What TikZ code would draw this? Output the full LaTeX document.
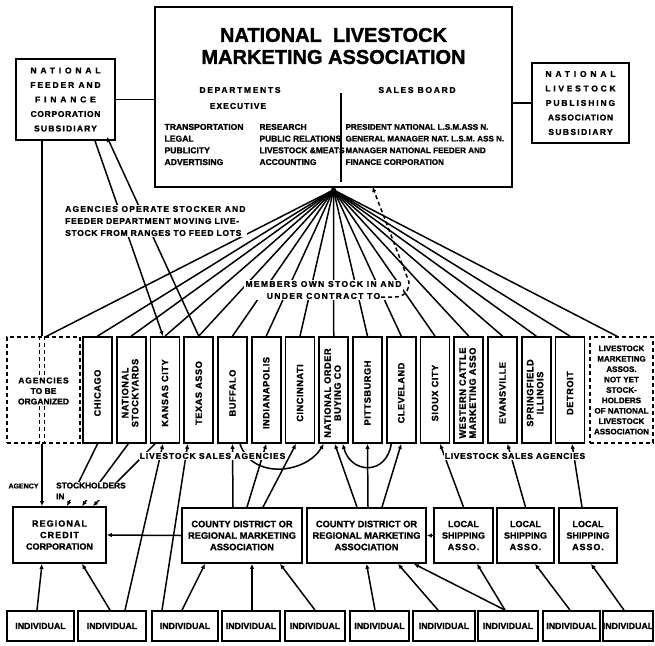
\documentclass[tikz,border=0pt]{standalone}
\usepackage{fontspec}
\setmainfont{Liberation Sans}[BoldFeatures={FakeBold=1.4}]
\usetikzlibrary{arrows.meta}

\protected\def\spc#1#2{{\addfontfeature{LetterSpace=#1}#2}}
\protected\def\two#1#2{\begin{tabular}{@{}c@{}}#1\\#2\end{tabular}}
\newcommand\fs[2]{\bfseries\fontsize{#1}{#2}\selectfont}

\begin{document}
\begin{tikzpicture}[x=1pt,y=-1pt,
    font=\fs{8.5}{11},
    box/.style={draw,line width=1.8pt,inner sep=0pt,align=center},
    dbox/.style={draw,dash pattern=on 4pt off 3pt,line width=1.5pt,inner sep=0pt,align=center},
    agtext/.style={inner sep=0pt,align=center,font=\fs{9.2}{10}},
    link/.style={line width=1.5pt},
    arr/.style={link,-{Latex[length=5pt,width=4.5pt]}},
    lbl/.style={fill=white,inner sep=1pt,align=center}]

  \useasboundingbox (0,0) rectangle (655,645);

  % association and subsidiaries
  \node[box,minimum width=357,minimum height=180] (main) at (333.5,97) {};
  \node[font=\fs{20}{22},align=center] (title) at (333.5,46)
    {NATIONAL\ \ LIVESTOCK\\MARKETING ASSOCIATION};
  \node (depts) at (240,90) {\spc{20}{DEPARTMENTS}};
  \node (exec) at (238,106) {\spc{12}{EXECUTIVE}};
  \node (sales) at (417,90) {\spc{20}{SALES BOARD}};
  \draw[line width=1.8pt] (341,93) -- (341,182);
  \node[anchor=west,align=left,font=\fs{8.6}{11.7}] (colA) at (161,144.5)
    {TRANSPORTATION\\LEGAL\\PUBLICITY\\ADVERTISING};
  \node[anchor=west,align=left,font=\fs{8.4}{11.7}] (colB) at (256,144.5)
    {RESEARCH\\PUBLIC RELATIONS\\LIVESTOCK \&MEATS\\ACCOUNTING};
  \node[anchor=west,align=left,font=\fs{8.1}{11.7}] (colC) at (342,144.5)
    {PRESIDENT NATIONAL L.S.M.ASS N.\\GENERAL MANAGER NAT. L.S.M. ASS N.\\MANAGER NATIONAL FEEDER AND\\FINANCE CORPORATION};

  \node[box,minimum width=99,minimum height=81,font=\fs{8.5}{14.5}] (feeder) at (65.5,99.5)
    {\spc{45}{NATIONAL}\\\spc{22}{FEEDER AND}\\\spc{45}{FINANCE}\\\spc{8}{CORPORATION}\\\spc{14}{SUBSIDIARY}};
  \node[box,minimum width=97,minimum height=80,font=\fs{8.5}{14.5}] (pub) at (580.5,103)
    {\spc{45}{NATIONAL}\\\spc{32}{LIVESTOCK}\\\spc{22}{PUBLISHING}\\\spc{8}{ASSOCIATION}\\\spc{16}{SUBSIDIARY}};
  \draw[link] (feeder.east) -- (feeder.east -| main.west);
  \draw[link] (pub.west -| main.east) -- (pub.west);

  % agencies
  \foreach \nm/\txt [count=\i] in {chicago/CHICAGO, yards/\two{NATIONAL}{STOCKYARDS},
      kansas/KANSAS CITY, texas/TEXAS ASSO, buffalo/BUFFALO, indy/INDIANAPOLIS,
      cincy/CINCINNATI, orderbuy/\two{NATIONAL ORDER}{BUYING CO}, pitts/PITTSBURGH,
      cleve/CLEVELAND, sioux/SIOUX CITY, western/\two{WESTERN CATTLE}{MARKETING ASSO},
      evans/EVANSVILLE, spring/\two{SPRINGFIELD}{ILLINOIS}, detroit/DETROIT} {
    \node[box,minimum width=29,minimum height=106] (\nm) at (63.75+33.75*\i,390) {};
    \node[agtext,rotate=90] (\nm-t) at ([yshift=-3pt]\nm.center) {\spc{6}{\txt}};
  }
  \node[dbox,minimum width=73,minimum height=106] (todo) at (43.5,390) {};
  \node[dbox,minimum width=63,minimum height=106,font=\fs{8}{10.4}] (notyet) at (621.5,390)
    {LIVESTOCK\\MARKETING\\ASSOS.\\NOT YET\\STOCK-\\HOLDERS\\OF NATIONAL\\LIVESTOCK\\ASSOCIATION};

  % lower boxes
  \node[box,minimum width=93,minimum height=56,font=\fs{9}{11.5}] (rc) at (59.5,535)
    {\spc{12}{REGIONAL}\\\spc{12}{CREDIT}\\CORPORATION};
  \node[box,minimum width=120,minimum height=55,font=\fs{9.3}{11.5}] (c1) at (242,535.5)
    {COUNTY DISTRICT OR\\REGIONAL MARKETING\\ASSOCIATION};
  \node[box,minimum width=119,minimum height=55,font=\fs{9.3}{11.5}] (c2) at (366.5,535.5)
    {COUNTY DISTRICT OR\\REGIONAL MARKETING\\ASSOCIATION};
  \foreach \nm/\cx/\w in {l1/463.5/59, l2/525.5/57, l3/588/58}
    \node[box,minimum width=\w,minimum height=55,font=\fs{9}{11.5}] (\nm) at (\cx,535.5)
      {LOCAL\\SHIPPING\\\spc{10}{ASSO.}};
  \foreach \cx/\w [count=\k] in {40.5/67, 112/68, 185/66, 251/58, 315/60,
      379.5/59, 444/62, 508/60, 571.5/57, 628/50}
    \node[box,minimum width=\w,minimum height=30,font=\fs{8.8}{10}] (ind\k) at (\cx,626) {INDIVIDUAL};

  % members own stock
  \coordinate (apex) at ([yshift=-2pt]main.south);
  \foreach \nm in {chicago,yards,kansas,texas,buffalo,indy,cincy,orderbuy,pitts,cleve,sioux,western,evans,spring,detroit}
    \draw[link] (apex) -- (\nm.north);
  \draw[link] (apex) -- ([xshift=3pt]todo.north);
  \draw[link] (apex) -- ([xshift=-4.5pt]notyet.north);
  \fill (apex) circle (2.5pt);

  % feeder corporation
  \draw[arr] ([xshift=29.5pt]feeder.south) -- ([xshift=-2pt]kansas.north);
  \draw[arr] (texas.north) -- ([xshift=41.5pt,yshift=4pt]feeder.south);
  \coordinate (fdrop) at ([xshift=-23.5pt]feeder.south);
  \coordinate (fin) at (fdrop |- todo.north);
  \coordinate (fout) at (fdrop |- todo.south);
  \draw[link] (fdrop) -- (fin);
  \draw[link,dash pattern=on 4pt off 3pt] ([xshift=-2.5pt]fin) -- ([xshift=-2.5pt]fout);
  \draw[link,dash pattern=on 4pt off 3pt] ([xshift=2.5pt]fin) -- ([xshift=2.5pt]fout);
  \draw[arr] (fout) -- (fout |- rc.north);

  % agencies and lower boxes
  \draw[arr] (chicago.south) -- ([xshift=7.5pt]rc.north);
  \draw[arr] ([xshift=-3pt]yards.south) -- ([xshift=22.5pt]rc.north);
  \draw[arr] ([xshift=-10pt]kansas.south) -- ([xshift=33.5pt]rc.north);
  \draw[arr] ([xshift=-9pt]c1.north) -- (buffalo.south);
  \draw[arr] ([xshift=5pt]c1.north) -- (indy.south);
  \draw[arr] ([xshift=21pt]c1.north) -- ([xshift=-4pt]cincy.south);
  \draw[arr] ([xshift=-9.5pt]c2.north) -- ([xshift=1pt]orderbuy.south);
  \draw[arr] ([xshift=1.5pt]c2.north) -- (pitts.south);
  \draw[arr] ([xshift=15.5pt]c2.north) -- (cleve.south);
  \draw[arr] (l1.north) -- ([xshift=5pt]sioux.south);
  \draw[arr] (l2.north) -- ([xshift=5pt]evans.south);
  \draw[arr] ([xshift=-6pt]l3.north) -- ([xshift=2pt]detroit.south);
  \draw[arr] ([xshift=7.5pt]buffalo.south) .. controls +(12,36) and +(-18,30) .. ([xshift=-10pt]orderbuy.south);
  \draw[arr] ([xshift=-10pt]cleve.south) .. controls +(-5,32) and +(8,30) .. ([xshift=9pt]orderbuy.south);
  \draw[arr] (c1.west) -- (rc.east);
  \draw[arr] (l1.west) -- (c2.east);

  % individuals
  \draw[arr] ([xshift=-3.5pt]ind1.north) -- ([xshift=-17.5pt]rc.south);
  \draw[arr] ([xshift=-2pt]ind2.north) -- ([xshift=22.5pt]rc.south);
  \draw[arr] ([xshift=13pt]ind2.north) -- ([xshift=-2pt]kansas.south);
  \draw[arr] ([xshift=-23pt]ind3.north) -- ([xshift=-11pt]texas.south);
  \draw[arr] ([xshift=-3pt]ind3.north) -- ([xshift=-37pt]c1.south);
  \draw[arr] ([xshift=1pt]ind4.north) -- ([xshift=10pt]c1.south);
  \draw[arr] (ind5.north) -- ([xshift=38pt]c1.south);
  \draw[arr] ([xshift=-4.5pt]ind6.north) -- (c2.south);
  \draw[arr] ([xshift=-6pt]ind7.north) -- ([xshift=31.5pt]c2.south);
  \draw[arr] ([xshift=-3pt]ind8.north) -- ([xshift=47.5pt]c2.south);
  \draw[arr] ([xshift=-3pt]ind8.north) -- ([xshift=13.5pt]l1.south);
  \draw[arr] ([xshift=-1.5pt]ind9.north) -- ([xshift=9.5pt]l2.south);
  \draw[arr] ([xshift=-4pt]ind10.north) -- ([xshift=3pt]l3.south);

  % labels over the lines
  \node[lbl,anchor=west,align=left,font=\fs{8.5}{12}] (operate) at (64,221)
    {\spc{14}{AGENCIES OPERATE STOCKER AND}\\\spc{8}{FEEDER DEPARTMENT MOVING LIVE-}\\\spc{8}{STOCK FROM RANGES TO FEED LOTS}};
  \node[lbl,font=\fs{8.5}{12}] (members) at (323.5,290)
    {\spc{16}{MEMBERS OWN STOCK IN AND}\\\spc{16}{UNDER CONTRACT TO}};
  \coordinate (dstart) at (381,297);
  \draw[link,dash pattern=on 4pt off 3pt,-{Latex[length=5pt,width=4.5pt]}] (dstart) -- (395,297)
    .. controls (404,297) and (409,291) .. (409,282) -- ([xshift=39pt,yshift=1pt]main.south);
  \node[lbl,font=\fs{8.5}{10.5}] (todo-t) at (43.5,391) {\spc{10}{AGENCIES}\\TO BE\\ORGANIZED};
  \node[lbl] (sales-l) at (212.5,456) {\spc{11}{LIVESTOCK SALES AGENCIES}};
  \node[lbl] (sales-r) at (515,456) {\spc{8}{LIVESTOCK SALES AGENCIES}};
  \node[lbl,font=\fs{7}{10}] (agency) at (23.5,486) {AGENCY};
  \node[lbl,anchor=west,align=left,font=\fs{8.3}{11}] (stockh) at (55,491) {STOCKHOLDERS\\IN};
\end{tikzpicture}
\end{document}
